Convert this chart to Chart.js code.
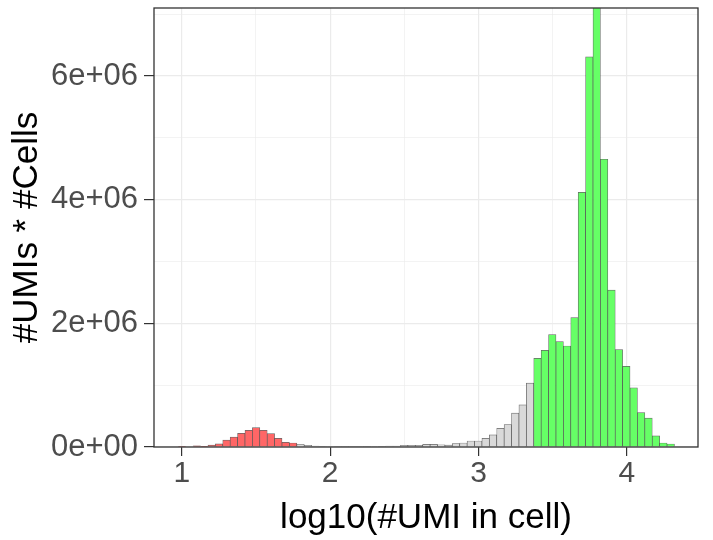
<!DOCTYPE html>
<html>
<head>
<meta charset="utf-8">
<script src="https://cdn.jsdelivr.net/npm/chart.js@4"></script>
<style>
  body { margin: 0; background: #fff; }
  canvas { display: block; }
</style>
</head>
<body>
<canvas id="umiChart" width="713" height="540"></canvas>
<script>
// histograma de log10(#UMI) ponderado por UMI, bins de ancho ~0.05
const binStart = 0.977;
const binWidth = 0.0499;

// alturas en millones
const lowCells = [0.01, 0.0, 0.02, 0.005, 0.03, 0.05, 0.11, 0.16, 0.22, 0.27, 0.315, 0.27, 0.216, 0.14, 0.076, 0.065];
const midCells = [0.045, 0.025, 0.015, 0.01, 0.008, 0.005, 0.004, 0.003, 0.004, 0.006,
    0.008, 0.01, 0.014, 0.016, 0.027, 0.028, 0.028, 0.043, 0.043, 0.037, 0.032, 0.054,
    0.065, 0.097, 0.097, 0.141, 0.195, 0.303, 0.362, 0.547, 0.68, 1.034];
const highCells = [1.433, 1.563, 1.818, 1.705, 1.634, 2.094, 4.118, 6.31, 7.3, 4.654,
    2.537, 1.575, 1.304, 0.958, 0.557, 0.466, 0.179, 0.065, 0.049];

const xTicks = [1, 1.5, 2, 2.5, 3, 3.5, 4];
const yTicks = [0, 1e6, 2e6, 3e6, 4e6, 5e6, 6e6, 7e6];

const groups = [
    { values: lowCells, color: 'rgba(255, 102, 102, 1)' },
    { values: midCells, color: 'rgba(217, 217, 217, 1)' },
    { values: highCells, color: 'rgba(102, 255, 102, 1)' }
];

const points = [];
const colors = [];
groups.forEach(g => {
    g.values.forEach(v => {
        const i = points.length;
        points.push({ x: binStart + (i + 0.5) * binWidth, y: v * 1e6 });
        colors.push(g.color);
    });
});

const sciLabel = (v) => {
    if (v === 0) return '0e+00';
    const [m, e] = v.toExponential(0).split('e');
    const exp = parseInt(e, 10);
    return `${m}e${exp < 0 ? '-' : '+'}${String(Math.abs(exp)).padStart(2, '0')}`;
};

const isMajor = (v, step) => Math.abs(v / step - Math.round(v / step)) < 1e-9;
const tickVal = (c) => (c && c.tick) ? c.tick.value : NaN;

const panelBorder = {
    id: 'panelBorder',
    afterDraw(chart) {
        const { ctx, chartArea } = chart;
        ctx.save();
        ctx.strokeStyle = '#333333';
        ctx.lineWidth = 1.3;
        ctx.strokeRect(chartArea.left, chartArea.top, chartArea.right - chartArea.left, chartArea.bottom - chartArea.top);
        ctx.restore();
    }
};

new Chart(document.getElementById('umiChart').getContext('2d'), {
    type: 'bar',
    data: {
        datasets: [{
            data: points,
            backgroundColor: colors,
            borderColor: 'rgba(50, 50, 50, 0.75)',
            borderWidth: 0.7,
            borderSkipped: 'start',
            barPercentage: 1,
            categoryPercentage: 1
        }]
    },
    options: {
        responsive: false,
        animation: false,
        devicePixelRatio: 1,
        layout: { padding: { top: 8, right: 15, bottom: 0, left: 0 } },
        plugins: { legend: { display: false }, tooltip: { enabled: false } },
        scales: {
            x: {
                type: 'linear',
                offset: false,
                min: 0.813,
                max: 4.479,
                afterBuildTicks: (scale) => { scale.ticks = xTicks.map(v => ({ value: v })); },
                afterFit: (scale) => {
                    scale.height = 93;
                    scale.paddingLeft = 0;
                    scale.paddingRight = 0;
                },
                grid: {
                    offset: false,
                    color: '#ebebeb',
                    lineWidth: (c) => isMajor(tickVal(c), 1) ? 1.2 : 0.6,
                    tickColor: (c) => isMajor(tickVal(c), 1) ? '#333333' : 'rgba(0,0,0,0)',
                    tickLength: 9
                },
                border: { display: false },
                ticks: {
                    autoSkip: false,
                    maxRotation: 0,
                    padding: 0,
                    color: '#4d4d4d',
                    font: { family: 'Liberation Sans', size: 30 },
                    callback: (v) => isMajor(v, 1) ? String(v) : ''
                },
                title: {
                    display: true,
                    text: 'log10(#UMI in cell)',
                    color: '#000000',
                    font: { family: 'Liberation Sans', size: 35 },
                    padding: { top: 0, bottom: 1 }
                }
            },
            y: {
                min: 0,
                max: 7.1e6,
                afterBuildTicks: (scale) => { scale.ticks = yTicks.map(v => ({ value: v })); },
                afterFit: (scale) => {
                    scale.width = 154;
                    scale.paddingTop = 0;
                    scale.paddingBottom = 0;
                },
                grid: {
                    color: '#ebebeb',
                    lineWidth: (c) => isMajor(tickVal(c), 2e6) ? 1.2 : 0.6,
                    tickColor: (c) => isMajor(tickVal(c), 2e6) ? '#333333' : 'rgba(0,0,0,0)',
                    tickLength: 10
                },
                border: { display: false },
                ticks: {
                    autoSkip: false,
                    padding: 6,
                    color: '#4d4d4d',
                    font: { family: 'Liberation Sans', size: 31 },
                    callback: (v) => isMajor(v, 2e6) ? sciLabel(v) : ''
                },
                title: {
                    display: true,
                    text: '#UMIs * #Cells',
                    color: '#000000',
                    font: { family: 'Liberation Sans', size: 35 },
                    padding: { top: 6, bottom: 0 }
                }
            }
        }
    },
    plugins: [panelBorder]
});
</script>
</body>
</html>
